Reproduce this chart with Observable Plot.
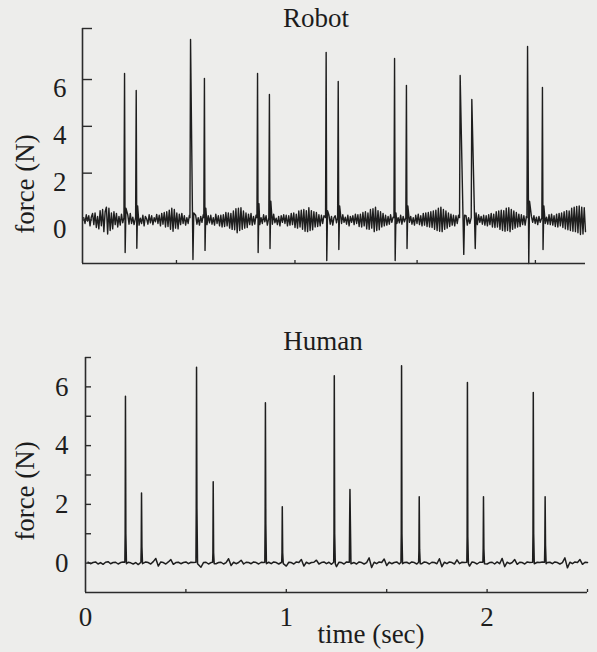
<!DOCTYPE html>
<html><head><meta charset="utf-8">
<script src="https://cdn.jsdelivr.net/npm/d3@7"></script>
<script src="https://cdn.jsdelivr.net/npm/@observablehq/plot@0.6"></script>
<style>
html,body{margin:0;padding:0;background:#ededeb;}
#wrap{position:relative;width:597px;height:652px;overflow:hidden;font-family:"Liberation Serif","Times New Roman",serif;color:#1c1c1c;}
.lbl{position:absolute;font-size:27px;line-height:1;white-space:nowrap;transform:translate(-50%,-50%);}
.rot{transform:translate(-50%,-50%) rotate(-90deg);}
.panel{position:absolute;left:0;}
</style></head><body>
<div id="wrap">
  <div id="top" class="panel" style="top:0px"></div>
  <div id="bottom" class="panel" style="top:330px"></div>
  <div class="lbl" style="left:316px;top:18px">Robot</div>
  <div class="lbl" style="left:323px;top:341px">Human</div>
  <div class="lbl rot" style="left:25px;top:184px">force (N)</div>
  <div class="lbl rot" style="left:25px;top:491px">force (N)</div>
  <div class="lbl" style="left:371px;top:634px">time (sec)</div>
</div>
<script>
// ---- data ----
const xDomain = [0, 2.5];
const robotYDomain = [-1.86, 8.18];
const humanYDomain = [-1, 7];
const robotYTicks = [0, 2, 4, 6, 8.18];
const robotYTickLabels = [0, 2, 4, 6];
const robotXTicks = [0.467, 1.056, 1.663, 2.251];
const humanYTicks = [0, 1, 2, 3, 4, 5, 6, 7];
const humanYTickLabels = [0, 2, 4, 6];
const humanXTicks = [0.5, 1, 1.5, 2, 2.5];
const humanXTickLabels = [0, 1, 2];

// robot contact spikes: time (s), peak (N), trough (N), fall duration (s), rebound (N)
const robotSpikeTime   = [0.209, 0.267, 0.537, 0.606, 0.870, 0.929, 1.211, 1.271, 1.551, 1.610, 1.877, 1.935, 2.212, 2.286];
const robotSpikePeak   = [6.26, 5.53, 7.71, 6.05, 6.26, 5.36, 7.16, 5.92, 6.90, 5.75, 6.17, 5.15, 7.41, 5.66];
const robotSpikeTrough = [-1.39, -1.21, -1.69, -1.30, -1.39, -1.22, -1.73, -1.26, -1.73, -1.22, -1.47, -1.22, -1.86, -1.26];
const robotSpikeFall   = [0.003, 0.003, 0.012, 0.003, 0.003, 0.003, 0.003, 0.003, 0.003, 0.003, 0.018, 0.017, 0.006, 0.003];
const robotSpikeRebound= [0.5, 0.6, 0.3, 0.5, 0.7, 0.8, 0.4, 0.6, 0.3, 0.6, 0.2, 0.3, 0.8, 0.6];

// robot baseline vibration, sampled every 0.00625 s from 0.00625 s
const robotNoiseStart = 0.00625, robotNoiseStep = 0.00625;
const robotNoise = [
  0.1,-0.15,0.22,-0.05,0.18,-0.25,0.12,0.28,-0.2,0.3,-0.32,0.15,-0.38,0.4,-0.25,0.45,-0.5,0.35,0.55,-0.6,
  0.5,-0.45,0.3,-0.38,0.35,-0.2,0.28,-0.3,0.15,-0.22,0.25,-0.12,0.2,-0.25,0.1,0.22,-0.18,0.28,-0.15,0.12,
  -0.2,0.18,-0.1,0.25,-0.22,0.08,-0.15,0.2,-0.25,0.15,0.05,-0.18,0.22,-0.12,0.18,-0.2,0.1,-0.08,0.24,-0.15,
  0.2,-0.25,0.28,-0.18,0.32,-0.3,0.35,-0.28,0.42,-0.4,0.5,-0.48,0.45,-0.35,0.3,-0.38,0.25,-0.2,0.28,-0.15,
  0.18,-0.22,0.1,-0.15,0.2,-0.08,0.15,-0.25,0.12,0.2,-0.18,0.1,-0.22,0.15,-0.1,0.22,-0.15,0.08,-0.2,0.18,
  -0.12,0.2,-0.18,0.1,-0.22,0.25,-0.15,0.18,-0.25,0.2,-0.3,0.22,-0.28,0.32,-0.25,0.3,-0.35,0.28,-0.4,0.38,
  -0.42,0.48,-0.55,0.5,-0.45,0.52,-0.4,0.38,-0.35,0.3,-0.32,0.25,-0.2,0.28,-0.22,0.15,-0.18,0.2,-0.12,0.15,
  -0.2,0.1,-0.15,0.22,-0.08,0.18,-0.22,0.12,-0.1,0.2,-0.18,0.25,-0.12,0.08,-0.2,0.15,-0.25,0.18,-0.1,0.22,
  -0.15,0.2,-0.25,0.18,-0.22,0.28,-0.2,0.3,-0.32,0.25,-0.35,0.38,-0.3,0.42,-0.4,0.45,-0.48,0.4,-0.5,0.52,
  -0.45,0.4,-0.42,0.35,-0.3,0.32,-0.28,0.22,-0.25,0.2,-0.15,0.18,-0.2,0.12,-0.1,0.2,-0.18,0.15,-0.22,0.1,
  0.18,-0.12,0.15,-0.2,0.08,-0.15,0.22,-0.1,0.12,-0.18,0.2,-0.25,0.15,-0.1,0.18,-0.2,0.25,-0.15,0.22,-0.28,
  0.25,-0.3,0.32,-0.25,0.35,-0.38,0.3,-0.4,0.45,-0.35,0.48,-0.5,0.55,-0.45,0.4,-0.42,0.35,-0.3,0.28,-0.25,
  0.2,-0.22,0.15,-0.18,0.22,-0.1,0.12,-0.2,0.18,-0.15,0.1,-0.12,0.2,-0.18,0.15,-0.08,0.12,-0.2,0.22,-0.1,
  0.15,-0.18,0.1,-0.22,0.2,-0.15,0.25,-0.2,0.18,-0.25,0.28,-0.22,0.3,-0.28,0.32,-0.3,0.35,-0.32,0.38,-0.4,
  0.42,-0.45,0.5,-0.48,0.55,-0.5,0.45,-0.4,0.38,-0.35,0.3,-0.28,0.25,-0.22,0.2,-0.25,0.18,-0.15,0.2,-0.12,
  0.15,-0.2,0.12,-0.1,0.18,-0.22,0.1,-0.15,0.2,-0.12,0.15,-0.18,0.08,-0.2,0.22,-0.1,0.15,-0.18,0.2,-0.22,
  0.18,-0.25,0.22,-0.2,0.28,-0.3,0.25,-0.32,0.35,-0.3,0.38,-0.4,0.42,-0.45,0.4,-0.48,0.5,-0.45,0.52,-0.5,
  0.45,-0.4,0.38,-0.35,0.32,-0.3,0.25,-0.28,0.22,-0.2,0.18,-0.22,0.15,-0.18,0.2,-0.12,0.15,-0.1,0.18,-0.15,
  0.12,-0.2,0.15,-0.1,0.18,-0.22,0.2,-0.15,0.12,-0.18,0.22,-0.2,0.25,-0.22,0.18,-0.28,0.25,-0.3,0.28,-0.25,
  0.3,-0.32,0.35,-0.38,0.4,-0.42,0.38,-0.45,0.5,-0.48,0.55,-0.5,0.58,-0.55,0.6,-0.62,0.55,-0.6,0.52,-0.5
];

// human contact spikes: time (s), peak (N), shoulder (N)
const humanSpikeTime     = [0.199, 0.279, 0.553, 0.636, 0.896, 0.980, 1.239, 1.317, 1.574, 1.662, 1.902, 1.982, 2.230, 2.289];
const humanSpikePeak     = [5.68, 2.39, 6.67, 2.77, 5.46, 1.92, 6.38, 2.51, 6.72, 2.26, 6.15, 2.26, 5.81, 2.26];
const humanSpikeShoulder = [1.0, 0.55, 1.85, 0.35, 1.35, 0.35, 1.0, 1.45, 1.0, 0.45, 0.9, 0.5, 1.0, 0.6];

// human baseline, sampled every 0.0125 s from 0.0125 s
const humanNoiseStart = 0.0125, humanNoiseStep = 0.0125;
const humanNoise = [
  0.03,-0.02,0.02,0.04,-0.03,0.02,-0.04,0.03,0.05,-0.02,
  0.02,0.03,-0.03,0.02,0.04,-0.02,0.03,0.01,-0.03,0.02,
  -0.05,0.03,-0.02,0.04,0.02,-0.03,0.05,0.16,-0.1,0.04,
  0.02,-0.03,0.04,0.12,-0.04,0.02,0.03,-0.02,0.02,0.04,
  -0.02,0.03,0.02,-0.03,0.04,-0.14,0.02,0.03,-0.03,0.02,
  0.04,-0.02,0.02,0.03,-0.03,0.02,0.15,-0.08,0.03,-0.02,
  0.02,0.1,-0.03,0.03,0.02,-0.02,0.04,0.02,-0.03,0.03,
  0.02,-0.06,0.03,-0.02,0.04,0.02,-0.03,0.02,0.03,-0.1,
  0.03,0.02,-0.03,0.04,0.02,0.12,-0.1,0.03,-0.02,0.02,
  0.03,0.1,-0.03,0.02,0.04,-0.02,0.03,-0.04,0.02,-0.12,
  0.03,0.02,-0.03,0.04,-0.02,0.03,0.02,-0.03,0.04,0.02,
  -0.03,0.02,0.18,-0.15,0.03,-0.02,0.04,0.02,0.14,-0.08,
  0.03,-0.02,0.02,0.04,-0.03,-0.12,0.02,0.03,-0.02,0.04,
  0.02,-0.03,0.03,-0.02,0.04,0.02,-0.03,0.03,0.02,-0.02,
  0.15,-0.12,0.03,-0.02,0.04,0.02,-0.03,0.11,-0.02,0.03,
  0.02,-0.03,-0.1,0.04,0.02,-0.03,0.03,-0.02,0.04,-0.03,
  0.02,0.03,-0.03,0.04,-0.02,0.16,-0.12,0.03,-0.02,0.02,
  0.12,-0.04,0.03,0.02,-0.03,0.04,0.02,-0.03,-0.08,0.03,
  0.02,0.04,-0.03,0.02,0.03,-0.02,0.04,0.02,-0.03,0.02,
  0.18,-0.16,0.03,-0.02,0.04,0.02,0.12,-0.04,0.03,0.02
];

// ---- build series ----
function buildRobot() {
  const wins = robotSpikeTime.map((t, i) => [t - 0.005, t + robotSpikeFall[i] + 0.008]);
  const pts = [];
  robotNoise.forEach((v, i) => {
    const t = robotNoiseStart + i * robotNoiseStep;
    if (!wins.some(([a, b]) => t >= a && t <= b)) pts.push({t, f: v});
  });
  robotSpikeTime.forEach((t, i) => {
    pts.push({t: t - 0.003, f: robotNoise[0]});
    pts.push({t, f: robotSpikePeak[i]});
    pts.push({t: t + robotSpikeFall[i], f: robotSpikeTrough[i]});
    pts.push({t: t + robotSpikeFall[i] + 0.004, f: robotSpikeRebound[i]});
  });
  return pts.sort((a, b) => a.t - b.t);
}
function buildHuman() {
  const wins = humanSpikeTime.map(t => [t - 0.007, t + 0.01]);
  const pts = [];
  humanNoise.forEach((v, i) => {
    const t = humanNoiseStart + i * humanNoiseStep;
    if (!wins.some(([a, b]) => t >= a && t <= b)) pts.push({t, f: v});
  });
  humanSpikeTime.forEach((t, i) => {
    pts.push({t: t - 0.003, f: humanNoise[0]});
    pts.push({t: t - 0.0015, f: humanSpikeShoulder[i]});
    pts.push({t, f: humanSpikePeak[i]});
    pts.push({t: t + 0.002, f: humanSpikeShoulder[i]});
    pts.push({t: t + 0.005, f: humanNoise[1]});
  });
  return pts.sort((a, b) => a.t - b.t);
}

const ink = "#1e1e1e";
const font = '"Liberation Serif","Times New Roman",serif';
const fmt = d => String(d);

const topPlot = Plot.plot({
  width: 597, height: 300,
  marginTop: 28, marginBottom: 37, marginLeft: 82, marginRight: 12,
  x: {domain: xDomain, axis: null, label: null},
  y: {domain: robotYDomain, axis: null, label: null},
  style: {background: "transparent", fontFamily: font, color: ink, overflow: "visible"},
  marks: [
    Plot.line(buildRobot(), {x: "t", y: "f", stroke: ink, strokeWidth: 1.4}),
    Plot.ruleX([xDomain[0]], {stroke: "#2b2b2b", strokeWidth: 1.6}),
    Plot.ruleY([robotYDomain[0]], {stroke: "#2b2b2b", strokeWidth: 1.6}),
    Plot.axisY(robotYTicks, {tickSize: 10, dx: 10, fill: "none", stroke: "#2b2b2b", strokeWidth: 1.4, label: null}),
    Plot.axisY(robotYTickLabels, {tickSize: 0, tickPadding: 16, stroke: "none", dy: 9, fontSize: 27, fill: ink, tickFormat: fmt, label: null}),
    Plot.axisX(robotXTicks, {anchor: "bottom", tickSize: 3, dy: -3, fill: "none", stroke: "#2b2b2b", strokeWidth: 1.3, label: null})
  ]
});
document.getElementById("top").appendChild(topPlot);

const bottomPlot = Plot.plot({
  width: 597, height: 322,
  marginTop: 27, marginBottom: 60, marginLeft: 85, marginRight: 10,
  x: {domain: xDomain, axis: null, label: null},
  y: {domain: humanYDomain, axis: null, label: null},
  style: {background: "transparent", fontFamily: font, color: ink, overflow: "visible"},
  marks: [
    Plot.line(buildHuman(), {x: "t", y: "f", stroke: ink, strokeWidth: 1.5}),
    Plot.ruleX([xDomain[0]], {stroke: "#2b2b2b", strokeWidth: 1.6}),
    Plot.ruleY([humanYDomain[0]], {stroke: "#2b2b2b", strokeWidth: 1.6}),
    Plot.axisY(humanYTicks, {tickSize: 6, dx: 6, fill: "none", stroke: "#2b2b2b", strokeWidth: 1.4, label: null}),
    Plot.axisY(humanYTickLabels, {tickSize: 0, tickPadding: 17, stroke: "none", fontSize: 27, fill: ink, tickFormat: fmt, label: null}),
    Plot.axisX(humanXTicks, {anchor: "bottom", tickSize: 3, dy: -3, fill: "none", stroke: "#2b2b2b", strokeWidth: 1.3, label: null}),
    Plot.axisX(humanXTickLabels, {anchor: "bottom", tickSize: 0, tickPadding: 14, stroke: "none", fontSize: 27, fill: ink, tickFormat: fmt, label: null})
  ]
});
document.getElementById("bottom").appendChild(bottomPlot);
</script>
</body></html>
